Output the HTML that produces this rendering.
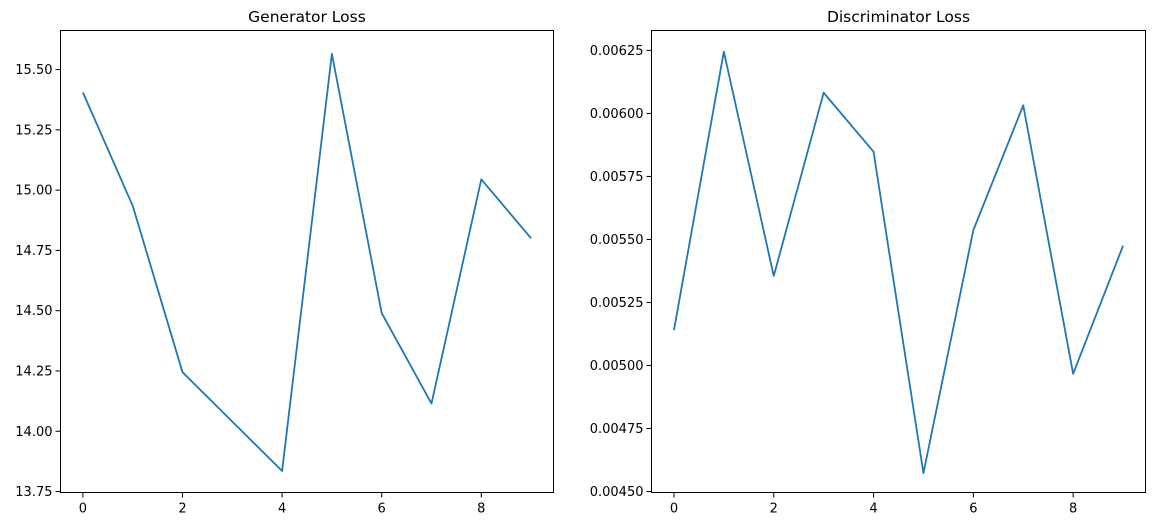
<!DOCTYPE html>
<html><head><meta charset="utf-8"><style>
body{margin:0;background:#fff;}
svg{display:block;font-family:"DejaVu Sans","Liberation Sans",sans-serif;}
</style></head><body>
<svg id="s" width="1154" height="526"></svg>
<script>
const xs=[0,1,2,3,4,5,6,7,8,9];
const genLoss=[15.405,14.935,14.245,14.04,13.835,15.565,14.49,14.115,15.045,14.80];
const discLoss=[0.00514,0.006245,0.005355,0.006082,0.005848,0.004573,0.005537,0.006032,0.004967,0.005475];
const xTicks=[0,2,4,6,8];
const genTicks=[13.75,14.00,14.25,14.50,14.75,15.00,15.25,15.50];
const discTicks=[0.00450,0.00475,0.00500,0.00525,0.00550,0.00575,0.00600,0.00625];
const NS='http://www.w3.org/2000/svg';
const svg=document.getElementById('s');
function mk(t,a,p){const e=document.createElementNS(NS,t);for(const k in a)e.setAttribute(k,a[k]);(p||svg).appendChild(e);return e;}
function panel(name,L,R,ymin,ymax,ticks,dec,vals,title){
  const T=30.5,B=492.5;
  const g=mk('g',{});
  
  
  const sx=v=>L+(v+0.45)/(9.9)*(R-L);
  const sy=v=>B-(v-ymin)/(ymax-ymin)*(B-T);
  let d='';vals.forEach((v,i)=>{d+=(i?'L':'M')+sx(xs[i]).toFixed(2)+','+sy(v).toFixed(2);});
  const line=mk('path',{d:d,fill:'none',stroke:'#1f77b4','stroke-width':1.8,'stroke-linejoin':'round'},g);
  
  
  const fr=mk('rect',{x:L,y:T,width:R-L,height:B-T,fill:'none',stroke:'#000','stroke-width':1},g);
  
  
  xTicks.forEach(t=>{const x=sx(t);mk('line',{x1:x,x2:x,y1:B,y2:B+5,stroke:'#000'},g);
    const tx=mk('text',{x:x,y:B+20,'font-size':13,'text-anchor':'middle'},g);tx.textContent=t;
    
    });
  ticks.forEach(t=>{const y=sy(t);mk('line',{x1:L-5,x2:L,y1:y,y2:y,stroke:'#000'},g);
    const tx=mk('text',{x:L-8,y:y+4.5,'font-size':13,'text-anchor':'end'},g);tx.textContent=t.toFixed(dec);
    
    });
  const ti=mk('text',{x:(L+R)/2,y:22,'font-size':15.5,'text-anchor':'middle'},g);ti.textContent=title;
  
  
}
panel('generator',60.5,553.5,13.746,15.662,genTicks,2,genLoss,'Generator Loss');
panel('discriminator',651.5,1145.5,0.004496,0.006329,discTicks,5,discLoss,'Discriminator Loss');
</script>
</body></html>
